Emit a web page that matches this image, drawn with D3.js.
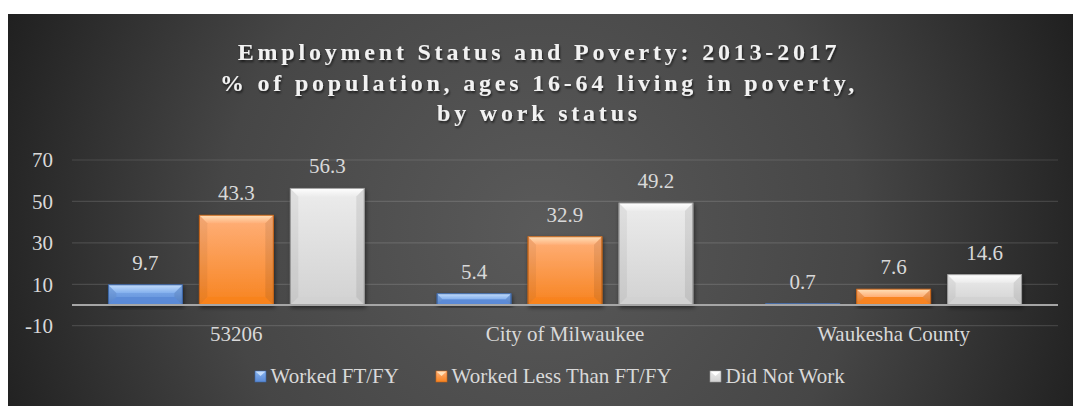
<!DOCTYPE html>
<html>
<head>
<meta charset="utf-8">
<script src="https://cdn.jsdelivr.net/npm/d3@7"></script>
<style>
html,body{margin:0;padding:0;background:#fff;}
svg{display:block;}
text{font-family:"Liberation Serif","Times New Roman",serif;}
</style>
</head>
<body>
<svg id="chart" width="1073" height="406"></svg>
<script>
const categories = ["53206", "City of Milwaukee", "Waukesha County"];
const seriesNames = ["Worked FT/FY", "Worked Less Than FT/FY", "Did Not Work"];
const workedFT = [9.7, 5.4, 0.7];
const workedLess = [43.3, 32.9, 7.6];
const didNotWork = [56.3, 49.2, 14.6];
const yTicks = [-10, 10, 30, 50, 70];
const titleLines = ["Employment Status and Poverty: 2013-2017",
  "% of population, ages 16-64 living in poverty,",
  "by work status"];

const seriesValues = [workedFT, workedLess, didNotWork];
const palette = [
  {top:"#c3dcfb", light:"#86b2ee", dark:"#5a8ad6", edge:"#3f68a8"},
  {top:"#ffe0b8", light:"#ffb07a", dark:"#f7831f", edge:"#c7651a"},
  {top:"#ffffff", light:"#ececec", dark:"#d2d2d2", edge:"#9a9a9a"}
];
const FONT = 21;

const svg = d3.select("#chart");
const defs = svg.append("defs");

// background
const bg = defs.append("radialGradient").attr("id","bgGrad")
  .attr("gradientUnits","userSpaceOnUse").attr("cx",540).attr("cy",230).attr("r",580);
bg.append("stop").attr("offset","0%").attr("stop-color","#5a5a5a");
bg.append("stop").attr("offset","55%").attr("stop-color","#464646");
bg.append("stop").attr("offset","100%").attr("stop-color","#1f1f1f");
svg.append("rect").attr("x",8).attr("y",14).attr("width",1065).attr("height",392).attr("fill","url(#bgGrad)");

const tf = defs.append("filter").attr("id","tshadow").attr("x","-10%").attr("y","-30%").attr("width","120%").attr("height","160%");
tf.append("feDropShadow").attr("dx",1).attr("dy",2).attr("stdDeviation",1.2).attr("flood-color","#000").attr("flood-opacity",0.6);
const bf = defs.append("filter").attr("id","bshadow").attr("x","-20%").attr("y","-20%").attr("width","140%").attr("height","140%");
bf.append("feDropShadow").attr("dx",1).attr("dy",2).attr("stdDeviation",2).attr("flood-color","#000").attr("flood-opacity",0.5);

palette.forEach((p,i)=>{
  const g = defs.append("linearGradient").attr("id","barGrad"+i).attr("x1",0).attr("y1",0).attr("x2",0).attr("y2",1);
  g.append("stop").attr("offset","0%").attr("stop-color",p.light);
  g.append("stop").attr("offset","100%").attr("stop-color",p.dark);
  const t = defs.append("linearGradient").attr("id","topGrad"+i).attr("x1",0).attr("y1",0).attr("x2",0).attr("y2",1);
  t.append("stop").attr("offset","0%").attr("stop-color",p.top);
  t.append("stop").attr("offset","100%").attr("stop-color",p.light).attr("stop-opacity",0.9);
});

// title
const title = svg.append("text").attr("text-anchor","middle").attr("fill","#f2f2f2")
  .attr("font-weight","bold").attr("font-size",24).attr("letter-spacing","3.8px")
  .attr("filter","url(#tshadow)");
titleLines.forEach((l,i)=>{
  title.append("tspan").attr("x",539).attr("y",60 + i*30.5).text(l);
});

// scales
const plotL = 72, plotR = 1058;
const y = d3.scaleLinear().domain([-10,70]).range([325.7,160]);
const x0 = d3.scaleBand().domain(categories).range([plotL, plotR]).paddingInner(0).paddingOuter(0);
const x1 = d3.scaleBand().domain(d3.range(3)).range([0, x0.bandwidth()]).paddingInner(0.187).paddingOuter(0.4);

// gridlines
svg.append("g").selectAll("line").data(yTicks).join("line")
  .attr("x1",plotL).attr("x2",plotR).attr("y1",d=>y(d)).attr("y2",d=>y(d))
  .attr("stroke","#ffffff").attr("stroke-opacity",0.13).attr("stroke-width",1.2);

// y axis labels
const yAxis = d3.axisLeft(y).tickValues(yTicks).tickSize(0).tickPadding(0).tickFormat(d=>String(d));
const ya = svg.append("g").attr("transform","translate(53,0)").call(yAxis);
ya.attr("font-family",null);
ya.select(".domain").remove();
ya.selectAll("text").attr("fill","#d9d9d9").attr("font-size",FONT)
  .attr("font-family","'Liberation Serif','Times New Roman',serif").attr("dy","0.32em");

// bars
const groups = svg.append("g").selectAll("g").data(categories).join("g")
  .attr("transform",d=>`translate(${x0(d)},0)`);

categories.forEach((cat, ci)=>{
  const g = groups.filter(d=>d===cat);
  seriesValues.forEach((vals, si)=>{
    const v = vals[ci];
    const bx = x1(si), bw = x1.bandwidth();
    const yt = y(v), yb = y(0);
    const h = yb - yt;
    const p = palette[si];
    const bg2 = g.append("g").attr("filter","url(#bshadow)");
    bg2.append("rect").attr("x",bx).attr("y",yt).attr("width",bw).attr("height",h)
      .attr("fill","url(#barGrad"+si+")").attr("stroke",p.edge).attr("stroke-width",0.8);
    const bev = Math.min(8, h/2);
    if (h > 2) {
      bg2.append("polygon").attr("points",
        [[bx,yt],[bx+bw,yt],[bx+bw-bev,yt+bev],[bx+bev,yt+bev]].map(a=>a.join(",")).join(" "))
        .attr("fill","url(#topGrad"+si+")");
      bg2.append("polygon").attr("points",
        [[bx,yb],[bx+bw,yb],[bx+bw-bev,yb-bev],[bx+bev,yb-bev]].map(a=>a.join(",")).join(" "))
        .attr("fill",p.dark).attr("opacity",0.9);
      bg2.append("polygon").attr("points",
        [[bx,yt],[bx+bev,yt+bev],[bx+bev,yb-bev],[bx,yb]].map(a=>a.join(",")).join(" "))
        .attr("fill","#000").attr("opacity",0.05);
      bg2.append("polygon").attr("points",
        [[bx+bw,yt],[bx+bw-bev,yt+bev],[bx+bw-bev,yb-bev],[bx+bw,yb]].map(a=>a.join(",")).join(" "))
        .attr("fill","#000").attr("opacity",0.08);
      bg2.append("rect").attr("x",bx).attr("y",yt).attr("width",bw).attr("height",h)
        .attr("fill","none").attr("stroke",p.edge).attr("stroke-width",0.8);
    }
    g.append("text").attr("x",bx+bw/2).attr("y",yt-15).attr("text-anchor","middle")
      .attr("fill","#d9d9d9").attr("font-size",FONT).text(d3.format(".1f")(v));
  });
});

// zero line
svg.append("line").attr("x1",plotL).attr("x2",plotR).attr("y1",y(0)).attr("y2",y(0))
  .attr("stroke","#a6a6a6").attr("stroke-width",2.2);

// category labels
svg.append("g").selectAll("text").data(categories).join("text")
  .attr("x",d=>x0(d)+x0.bandwidth()/2).attr("y",341).attr("text-anchor","middle")
  .attr("fill","#d9d9d9").attr("font-size",FONT).text(d=>d);

// legend
const legendX = [255, 436, 710];
const lg = svg.append("g");
seriesNames.forEach((n,i)=>{
  const p = palette[i];
  const gg = lg.append("g").attr("transform",`translate(${legendX[i]},371)`);
  gg.append("rect").attr("width",11).attr("height",11).attr("fill","url(#barGrad"+i+")").attr("stroke",p.edge).attr("stroke-width",0.6);
  gg.append("polygon").attr("points","0.5,0.5 10.5,0.5 5.5,5").attr("fill",p.top);
  gg.append("text").attr("x",15.5).attr("y",12).attr("fill","#d9d9d9").attr("font-size",FONT).text(n);
});
</script>
</body>
</html>
